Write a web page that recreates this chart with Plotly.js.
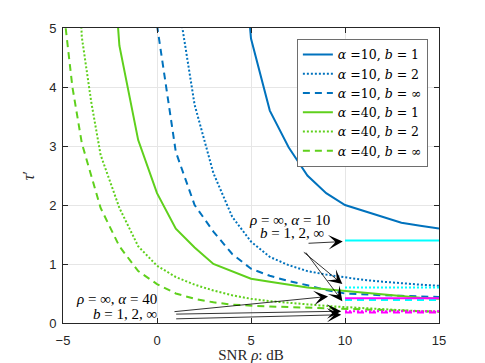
<!DOCTYPE html>
<html>
<head>
<meta charset="utf-8">
<script src="https://cdn.plot.ly/plotly-3.0.1.min.js"></script>
<style>
  html, body { margin: 0; padding: 0; background: #fff; }
  #chart { width: 485px; height: 363px; }
</style>
</head>
<body>
<div id="chart"></div>
<script>
// SNR rho (dB) and tau'
var snrA10b1 = [4, 5, 6, 7, 8, 9, 10, 11, 12, 13, 14, 15];
var tauA10b1 = [8.5, 4.82, 3.6, 2.98, 2.5, 2.2, 2.0, 1.9, 1.8, 1.7, 1.65, 1.6];

var snrA10b2 = [1, 2, 3, 4, 5, 6, 7, 8, 9, 10, 11, 12, 13, 14, 15];
var tauA10b2 = [5.7, 3.7, 2.54, 1.8, 1.38, 1.12, 0.98, 0.88, 0.82, 0.77, 0.73, 0.7, 0.67, 0.65, 0.63];

var snrA10bInf = [0, 1, 2, 3, 4, 5, 6, 7, 8, 9, 10, 11, 12, 13, 14, 15];
var tauA10bInf = [5.05, 2.9, 2.0, 1.55, 1.17, 0.92, 0.8, 0.71, 0.64, 0.56, 0.5, 0.48, 0.47, 0.46, 0.45, 0.44];

var snrA40b1 = [-3, -2, -1, 0, 1, 2, 3, 4, 5, 6, 7, 8, 9, 10, 11, 12, 13, 14, 15];
var tauA40b1 = [9, 4.7, 3.1, 2.2, 1.6, 1.28, 1.0, 0.88, 0.75, 0.7, 0.65, 0.6, 0.57, 0.54, 0.51, 0.48, 0.46, 0.43, 0.41];

var snrA40b2 = [-5, -4, -3.5, -3, -2, -1, 0, 1, 2, 3, 4, 5, 6, 7, 8, 9, 10, 11, 12, 13, 14, 15];
var tauA40b2 = [12, 4.85, 3.75, 2.85, 1.95, 1.3, 0.97, 0.78, 0.65, 0.55, 0.47, 0.41, 0.37, 0.34, 0.31, 0.29, 0.27, 0.25, 0.23, 0.22, 0.2, 0.19];

var snrA40bInf = [-5, -4.5, -4, -3, -2, -1, 0, 1, 2, 3, 4, 5, 6, 7, 8, 9, 10, 11, 12, 13, 14, 15];
var tauA40bInf = [5.4, 4.0, 3.05, 1.95, 1.3, 0.88, 0.66, 0.5, 0.41, 0.35, 0.31, 0.29, 0.28, 0.27, 0.26, 0.25, 0.24, 0.23, 0.22, 0.21, 0.2, 0.19];

// rho = infinity limits, drawn from 10 to 15 dB
var limitSnr = [10, 15];
var limA10 = [1.4, 0.6, 0.39];   // b = 1, 2, inf
var limA40 = [0.42, 0.2, 0.18];  // b = 1, 2, inf

var blue = "#0072BD";
var green = "#5fd01c";
var dashLong = "7px,5px";
var dotty = "2px,2px";

function curve(x, y, name, color, dash) {
    return {
        x: x, y: y, name: name, type: "scatter", mode: "lines",
        line: {color: color, width: 2, dash: dash}
    };
}
function limit(val, color, dash) {
    return {
        x: limitSnr, y: [val, val], type: "scatter", mode: "lines",
        showlegend: false, hoverinfo: "skip",
        line: {color: color, width: 2, dash: dash}
    };
}

var data = [
    curve(snrA10b1, tauA10b1, "<i>α</i> =10, <i>b</i> = 1", blue, "solid"),
    curve(snrA10b2, tauA10b2, "<i>α</i> =10, <i>b</i> = 2", blue, dotty),
    curve(snrA10bInf, tauA10bInf, "<i>α</i> =10, <i>b</i> = ∞", blue, dashLong),
    curve(snrA40b1, tauA40b1, "<i>α</i> =40, <i>b</i> = 1", green, "solid"),
    curve(snrA40b2, tauA40b2, "<i>α</i> =40, <i>b</i> = 2", green, dotty),
    curve(snrA40bInf, tauA40bInf, "<i>α</i> =40, <i>b</i> = ∞", green, dashLong),
    limit(limA10[0], "#00FFFF", "solid"),
    limit(limA10[1], "#00FFFF", dotty),
    limit(limA10[2], "#00FFFF", dashLong),
    limit(limA40[0], "#FF00FF", "solid"),
    limit(limA40[1], "#FF00FF", dotty),
    limit(limA40[2], "#FF00FF", dashLong)
];

// arrows: [headX, headY, tailX, tailY]
var arrows = [
    [9.88, 1.38, 7.98, 1.35],
    [9.86, 0.66, 7.73, 1.22],
    [9.86, 0.37, 7.86, 1.22],
    [9.1, 0.45, 0.85, 0.19],
    [9.8, 0.2, 0.94, 0.15],
    [9.8, 0.14, 0.94, 0.07]
];
var serif = "Liberation Serif, DejaVu Serif, serif";
var annotations = arrows.map(function (a) {
    return {
        x: a[0], y: a[1], ax: a[2], ay: a[3],
        xref: "x", yref: "y", axref: "x", ayref: "y",
        text: "", showarrow: true, arrowhead: 3, arrowsize: 3,
        arrowwidth: 0.8, arrowcolor: "#000", standoff: 0, startstandoff: 0
    };
});
var labels = [
    ["<i>ρ</i> = ∞, <i>α</i> = 10", 7.06, 1.74],
    ["<i>b</i> = 1, 2, ∞", 7.2, 1.52],
    ["<i>ρ</i> = ∞, <i>α</i> = 40", -2.16, 0.41],
    ["<i>b</i> = 1, 2, ∞", -1.72, 0.16]
];
labels.forEach(function (l) {
    annotations.push({
        x: l[1], y: l[2], xref: "x", yref: "y", text: l[0], showarrow: false,
        font: {family: serif, size: 15, color: "#000"}
    });
});

var axisCommon = {
    showline: true, linecolor: "#262626", linewidth: 1, mirror: "ticks",
    ticks: "inside", ticklen: 5, tickcolor: "#262626",
    showgrid: true, gridcolor: "#e6e6e6", zeroline: false,
    tickfont: {family: "Liberation Sans, Arial, sans-serif", size: 13, color: "#262626"}
};

var layout = {
    width: 485, height: 363,
    margin: {l: 63, r: 46, t: 28, b: 40},
    paper_bgcolor: "#fff", plot_bgcolor: "#fff",
    xaxis: Object.assign({}, axisCommon, {
        range: [-5, 15], tickvals: [-5, 0, 5, 10, 15], ticklabelstandoff: 5,
        title: {text: "SNR <i>ρ</i>: dB", font: {family: serif, size: 15, color: "#262626"}, standoff: 3}
    }),
    yaxis: Object.assign({}, axisCommon, {
        range: [0, 5], tickvals: [0, 1, 2, 3, 4, 5], ticklabelstandoff: 3,
        title: {text: "<i>τ</i>′", font: {family: serif, size: 16, color: "#262626"}, standoff: 10}
    }),
    legend: {
        x: 0.622, y: 0.963, xanchor: "left", yanchor: "top",
        bgcolor: "#fff", bordercolor: "#6e6e6e", borderwidth: 1,
        font: {family: "DejaVu Serif, serif", size: 12.5, color: "#000"},
        tracegroupgap: 0
    },
    annotations: annotations,
    showlegend: true
};

Plotly.newPlot("chart", data, layout, {displayModeBar: false, staticPlot: true});
</script>
</body>
</html>
